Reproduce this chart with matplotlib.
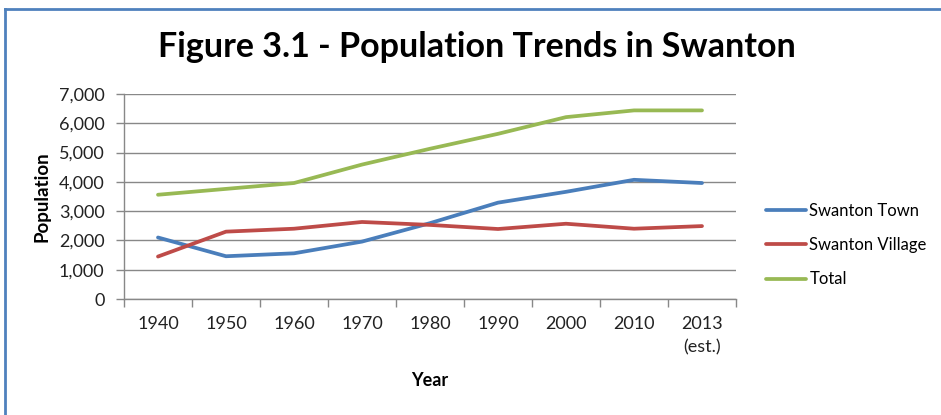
import matplotlib
matplotlib.use('Agg')
from matplotlib import pyplot as plt
from matplotlib.lines import Line2D
from matplotlib.ticker import FuncFormatter

# data
years = ['1940', '1950', '1960', '1970', '1980', '1990', '2000', '2010', '2013\n(est.)']
town = [2100, 1460, 1560, 1960, 2590, 3290, 3660, 4070, 3960]
village = [1450, 2300, 2400, 2630, 2530, 2390, 2570, 2400, 2490]
total = [3560, 3760, 3960, 4590, 5130, 5640, 6210, 6440, 6440]

plt.rcParams['font.family'] = ['Lato', 'DejaVu Sans']

fig = plt.figure(figsize=(9.41, 4.15), dpi=100)
ax = fig.add_axes([124/941, 116/415, 612/941, 205/415])

x = range(len(years))
ax.plot(x, town, color='#4A7EBB', lw=2.7, label='Swanton Town', solid_capstyle='round')
ax.plot(x, village, color='#BE4B48', lw=2.7, label='Swanton Village', solid_capstyle='round')
ax.plot(x, total, color='#98B954', lw=2.7, label='Total', solid_capstyle='round')

ax.set_xlim(-0.5, len(years) - 0.5)
ax.set_ylim(0, 7000)
ax.set_yticks(range(0, 7001, 1000))
ax.yaxis.set_major_formatter(FuncFormatter(lambda v, p: '{:,.0f}'.format(v)))
ax.set_xticks(list(x))
ax.set_xticklabels(years, linespacing=1.6)
ax.set_xticks([i - 0.5 for i in range(len(years) + 1)], minor=True)
ax.tick_params(axis='x', which='major', length=0, pad=12, labelsize=13, colors='#222222')
ax.tick_params(axis='x', which='minor', length=6, color='#888888', width=1)
ax.tick_params(axis='y', length=6, color='#888888', width=1, labelsize=13, labelcolor='#222222', pad=8)

ax.grid(axis='y', color='#888888', lw=1)
ax.set_axisbelow(True)
for s in ['top', 'right']:
    ax.spines[s].set_visible(False)
for s in ['left', 'bottom']:
    ax.spines[s].set_color('#888888')
    ax.spines[s].set_linewidth(1)

ax.set_xlabel('Year', fontsize=13, fontweight='bold', labelpad=12)
ax.set_ylabel('Population', fontsize=13.5, fontweight='bold', labelpad=6)

fig.text(477/941, 1 - 47/415, 'Figure 3.1 - Population Trends in Swanton',
         ha='center', va='center', fontsize=24.5, fontweight='bold')

ax.legend(loc='center left', bbox_to_anchor=(766/941, 1 - 245/415), bbox_transform=fig.transFigure,
          frameon=False, fontsize=12, handlelength=2.4, handletextpad=0.2, labelspacing=1.1,
          borderaxespad=0, borderpad=0)

# blue frame of the chart (top and left edges visible)
fig.add_artist(Line2D([5/941, 1], [1 - 9/415, 1 - 9/415], color='#4F81BD', lw=2, transform=fig.transFigure))
fig.add_artist(Line2D([5/941, 5/941], [0, 1 - 9/415], color='#4F81BD', lw=2, transform=fig.transFigure))

fig.savefig('out.png', dpi=100)
